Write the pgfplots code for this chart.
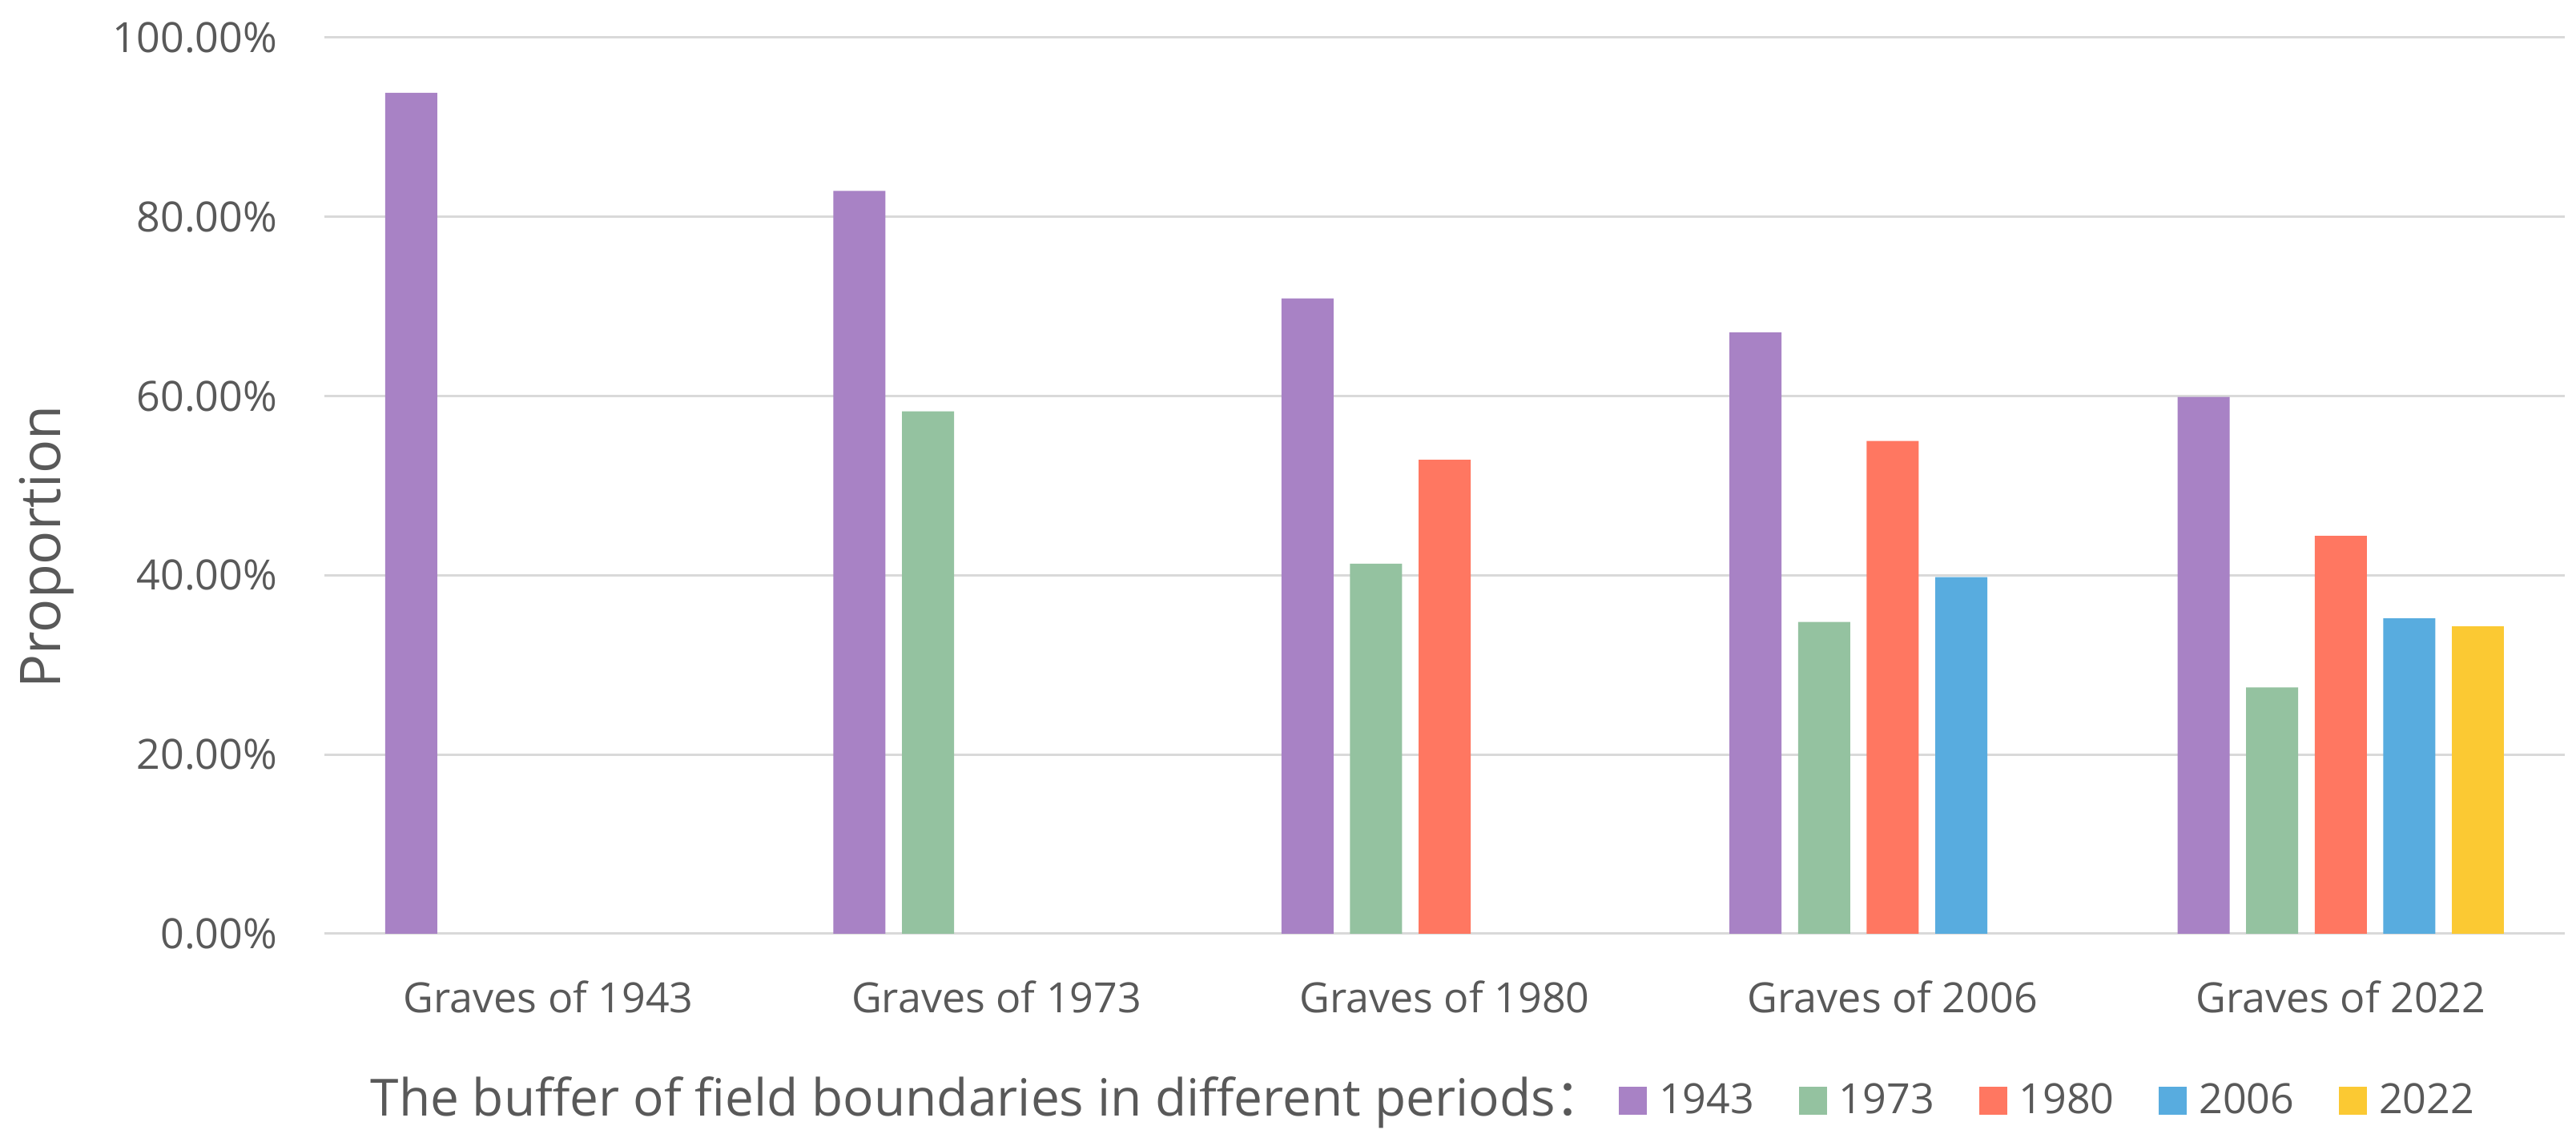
\documentclass[border=0pt]{standalone}
\usepackage{pgfplots}
\pgfplotsset{compat=1.18}
\usepackage{fontspec}
\setmainfont{Open Sans}
\newfontfamily\cjk{Noto Sans CJK SC}
\definecolor{cPur}{HTML}{A882C5}
\definecolor{cGre}{HTML}{94C2A0}
\definecolor{cRed}{HTML}{FF7761}
\definecolor{cBlu}{HTML}{58ACDF}
\definecolor{cYel}{HTML}{FBC933}
\definecolor{txt}{HTML}{595959}
\definecolor{gridc}{HTML}{D9D9D9}
\pgfplotsset{sqleg/.style={legend image code/.code={\fill[##1] (0pt,-4.375pt) rectangle (8.75pt,4.375pt);}}}
\begin{document}
\begin{tikzpicture}
\useasboundingbox (-101.25pt,-66.25pt) rectangle (702.75pt,291.5pt);
\begin{axis}[
  scale only axis, width=699.25pt, height=279.75pt,
  xmin=-0.5, xmax=4.5, ymin=0, ymax=100,
  ybar, bar width=16.25pt,
  xtick={0,1,2,3,4},
  xticklabels={Graves of 1943,Graves of 1973,Graves of 1980,Graves of 2006,Graves of 2022},
  ytick={0,20,40,60,80,100},
  yticklabels={0.00\%,20.00\%,40.00\%,60.00\%,80.00\%,100.00\%},
  major tick length=0pt,
  axis line style={draw=none},
  ymajorgrids, major grid style={draw=gridc, line width=0.75pt},
  tick label style={font=\fontsize{13}{15}\selectfont, text=txt},
  yticklabel style={anchor=east, inner sep=0pt, xshift=-14.5pt},
  xticklabel style={anchor=base, inner sep=0pt, yshift=-24.75pt},
  xlabel={The buffer of field boundaries in different periods{\cjk ：}},
  xlabel style={at={(axis description cs:0.02038,-0.2029)}, anchor=base west, inner sep=0pt, font=\fontsize{16}{19}\selectfont, text=txt},
  ylabel={Proportion},
  ylabel style={at={(axis description cs:-0.1241,0.4316)}, anchor=center, inner sep=0pt, font=\fontsize{17.5}{21}\selectfont, text=txt},
  legend style={at={(axis description cs:0.5778,-0.1862)}, anchor=west, draw=none, fill=none, inner sep=0pt, outer sep=0pt,
    font=\fontsize{13}{15}\selectfont, text=txt, nodes={inner sep=0pt},
    /tikz/every odd column/.append style={column sep=3.75pt},
    /tikz/every even column/.append style={column sep=13.95pt}},
  legend columns=-1,
]
\addplot[fill=cPur, draw=none, bar shift=-42.8pt, sqleg] coordinates {(0,93.85) (1,82.9) (2,70.9) (3,67.1) (4,59.9)};
\addlegendentry{1943}
\addplot[fill=cGre, draw=none, bar shift=-21.4pt, sqleg] coordinates {(1,58.3) (2,41.3) (3,34.8) (4,27.5)};
\addlegendentry{1973}
\addplot[fill=cRed, draw=none, bar shift=0pt, sqleg] coordinates {(2,52.9) (3,55.0) (4,44.4)};
\addlegendentry{1980}
\addplot[fill=cBlu, draw=none, bar shift=21.4pt, sqleg] coordinates {(3,39.8) (4,35.2)};
\addlegendentry{2006}
\addplot[fill=cYel, draw=none, bar shift=42.8pt, sqleg] coordinates {(4,34.3)};
\addlegendentry{2022}
\end{axis}
\end{tikzpicture}
\end{document}
